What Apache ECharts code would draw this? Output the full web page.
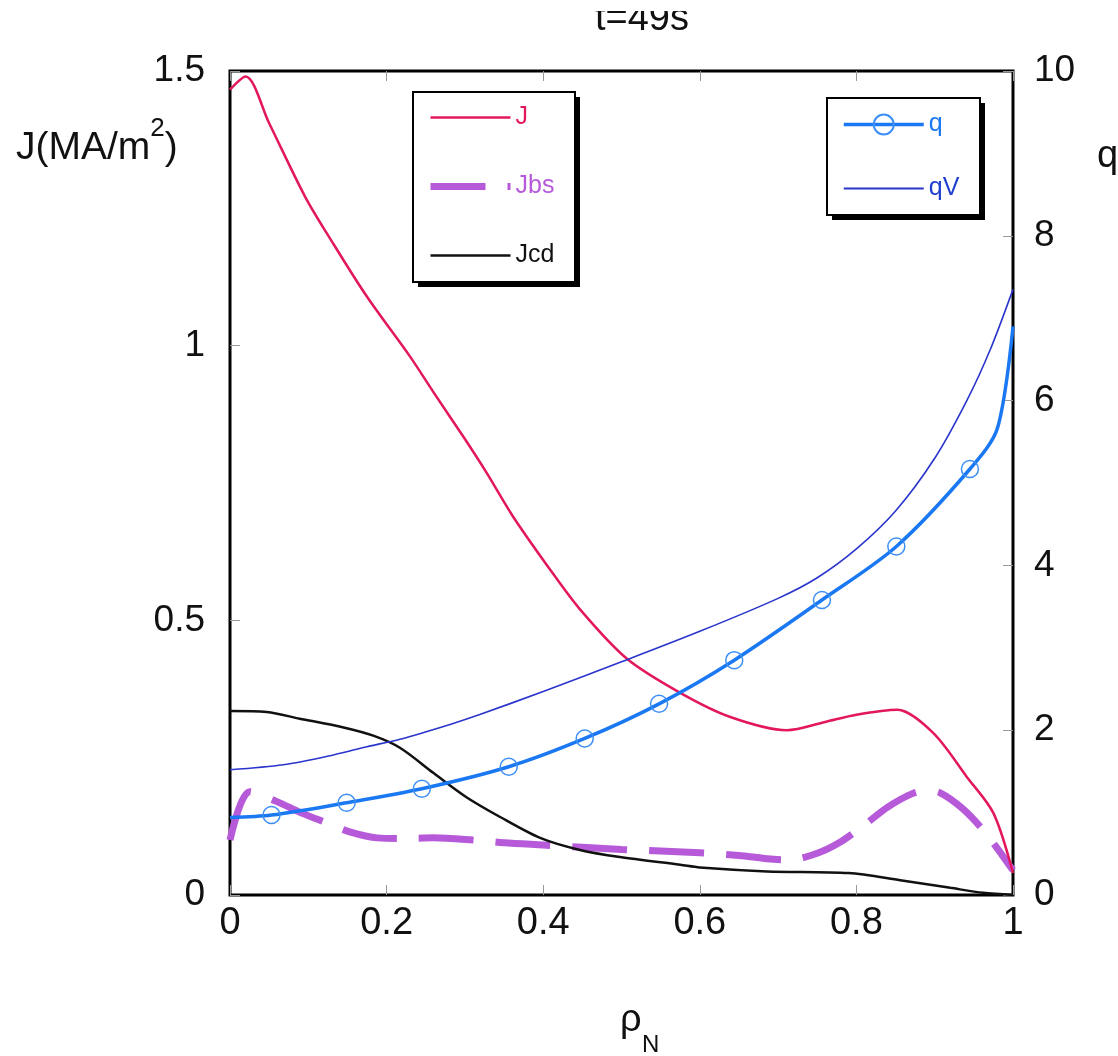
<!DOCTYPE html>
<html>
<head>
<meta charset="utf-8">
<script src="https://cdn.jsdelivr.net/npm/echarts@6/dist/echarts.min.js"></script>
<style>
  html, body { margin: 0; padding: 0; background: #fff; }
  #chart { width: 1118px; height: 1056px; }
</style>
</head>
<body>
<div id="chart"></div>
<script>
// ---- data ----
const xTicks = [0, 0.2, 0.4, 0.6, 0.8, 1];
const jTicks = [0, 0.5, 1, 1.5];
const qTicks = [0, 2, 4, 6, 8, 10];

const jRho = [0, 0.02, 0.05, 0.096, 0.13, 0.175, 0.23, 0.26, 0.3, 0.328, 0.361, 0.405, 0.447, 0.507, 0.575, 0.639, 0.711, 0.76, 0.8, 0.852, 0.898, 0.941, 0.975, 1.0];
const jVal = [1.466, 1.49, 1.405, 1.271, 1.19, 1.089, 0.98, 0.915, 0.83, 0.768, 0.69, 0.60, 0.52, 0.43, 0.368, 0.324, 0.300, 0.315, 0.328, 0.337, 0.295, 0.215, 0.149, 0.04];

const jbsRho = [0, 0.025, 0.06, 0.09, 0.124, 0.153, 0.188, 0.22, 0.26, 0.31, 0.35, 0.4, 0.5, 0.6, 0.65, 0.686, 0.715, 0.75, 0.779, 0.808, 0.84, 0.872, 0.89, 0.907, 0.935, 0.962, 0.985, 1.0];
const jbsVal = [0.10, 0.188, 0.17, 0.15, 0.131, 0.115, 0.104, 0.103, 0.104, 0.100, 0.095, 0.091, 0.083, 0.077, 0.072, 0.066, 0.064, 0.076, 0.096, 0.125, 0.160, 0.185, 0.19, 0.186, 0.158, 0.118, 0.075, 0.045];

const jcdRho = [0, 0.047, 0.089, 0.145, 0.183, 0.217, 0.26, 0.302, 0.345, 0.396, 0.447, 0.498, 0.575, 0.6, 0.686, 0.79, 0.856, 0.92, 0.962, 1.0];
const jcdVal = [0.335, 0.333, 0.321, 0.305, 0.29, 0.268, 0.222, 0.178, 0.142, 0.104, 0.082, 0.069, 0.055, 0.050, 0.043, 0.040, 0.027, 0.013, 0.004, 0.0];

const qRho  = [0, 0.053, 0.149, 0.245, 0.356, 0.453, 0.548, 0.644, 0.756, 0.851, 0.945, 0.98, 1.0];
const qVal  = [0.94, 0.97, 1.12, 1.29, 1.557, 1.90, 2.32, 2.85, 3.58, 4.23, 5.17, 5.66, 6.9];
const qMark = [0, 1, 1, 1, 1, 1, 1, 1, 1, 1, 1, 0, 0];

const qvRho = [0, 0.068, 0.132, 0.175, 0.217, 0.281, 0.319, 0.4, 0.5, 0.6, 0.7, 0.75, 0.8, 0.85, 0.9, 0.941, 0.971, 1.0];
const qvVal = [1.52, 1.58, 1.70, 1.80, 1.89, 2.07, 2.19, 2.47, 2.83, 3.20, 3.60, 3.85, 4.20, 4.66, 5.30, 6.00, 6.62, 7.35];

// ---- styling ----
const FONT = '"Liberation Sans", Arial, Helvetica, sans-serif';
const cJ = '#e3175b', cJbs = '#b65ad9', cJcd = '#111111', cQ = '#1a78f2', cQm = '#3d8ff5', cQV = '#2a35cc';

const pairs = (xs, ys) => xs.map((x, i) => [x, ys[i]]);

const tickStyle = { show: true, inside: true, length: 10, lineStyle: { color: '#999', width: 1 } };
const noLine = { show: false, onZero: false };
const hiddenSym = { opacity: 0 };

const chart = echarts.init(document.getElementById('chart'), null, { renderer: 'canvas' });

chart.setOption({
  animation: false,
  backgroundColor: '#fff',
  grid: {
    left: 230, right: 105, top: 71, bottom: 161,
    show: true, borderColor: '#000', borderWidth: 3, backgroundColor: 'transparent'
  },
  xAxis: [
    {
      type: 'value', min: xTicks[0], max: xTicks[xTicks.length - 1], interval: 0.2,
      position: 'bottom',
      axisLine: noLine, splitLine: { show: false },
      axisTick: tickStyle,
      axisLabel: { fontSize: 38, color: '#111', fontFamily: FONT, margin: 10 }
    },
    {
      type: 'value', min: xTicks[0], max: xTicks[xTicks.length - 1], interval: 0.2,
      position: 'top',
      axisLine: noLine, splitLine: { show: false },
      axisTick: tickStyle, axisLabel: { show: false }
    }
  ],
  yAxis: [
    {
      type: 'value', min: jTicks[0], max: jTicks[jTicks.length - 1], interval: 0.5,
      position: 'left',
      axisLine: noLine, splitLine: { show: false },
      axisTick: tickStyle,
      axisLabel: { fontSize: 37, color: '#111', fontFamily: FONT, margin: 25, padding: [0, 0, 10, 0] }
    },
    {
      type: 'value', min: qTicks[0], max: qTicks[qTicks.length - 1], interval: 2,
      position: 'right',
      axisLine: noLine, splitLine: { show: false },
      axisTick: tickStyle,
      axisLabel: { fontSize: 37, color: '#111', fontFamily: FONT, margin: 21, padding: [0, 0, 15, 0] }
    }
  ],
  legend: [
    {
      data: [
        { name: 'J', textStyle: { color: cJ }, itemStyle: hiddenSym, lineStyle: { width: 2.5 } },
        { name: 'Jbs', textStyle: { color: cJbs }, itemStyle: hiddenSym, lineStyle: { width: 7 } },
        { name: 'Jcd', textStyle: { color: '#111' }, itemStyle: hiddenSym, lineStyle: { width: 2.5 } }
      ],
      orient: 'vertical', left: 413, top: 92, z: 10,
      itemWidth: 80, itemHeight: 25, itemGap: 44,
      padding: [13, 22, 15, 14],
      textStyle: { fontSize: 25, fontFamily: FONT, lineHeight: 25 },
      selectedMode: false
    },
    {
      data: [
        { name: 'q', textStyle: { color: '#1a78f2' }, lineStyle: { width: 3.5 } },
        { name: 'qV', textStyle: { color: '#2040d0' }, itemStyle: hiddenSym, lineStyle: { width: 1.8 } }
      ],
      orient: 'vertical', left: 827, top: 98, z: 10,
      itemWidth: 80, itemHeight: 25, itemGap: 39,
      padding: [14, 21, 15, 15],
      textStyle: { fontSize: 25, fontFamily: FONT, lineHeight: 25 },
      selectedMode: false
    }
  ],
  series: [
    {
      name: 'J', type: 'line', xAxisIndex: 0, yAxisIndex: 0,
      data: pairs(jRho, jVal), smooth: 0.3, symbol: 'none',
      lineStyle: { color: cJ, width: 2.5 }, itemStyle: { color: cJ }, z: 3
    },
    {
      name: 'Jbs', type: 'line', xAxisIndex: 0, yAxisIndex: 0,
      data: pairs(jbsRho, jbsVal), smooth: 0.3, symbol: 'none',
      lineStyle: { color: cJbs, width: 7, type: [55, 22] }, itemStyle: { color: cJbs }, z: 2
    },
    {
      name: 'Jcd', type: 'line', xAxisIndex: 0, yAxisIndex: 0,
      data: pairs(jcdRho, jcdVal), smooth: 0.3, symbol: 'none',
      lineStyle: { color: cJcd, width: 2.5 }, itemStyle: { color: cJcd }, z: 3
    },
    {
      name: 'q', type: 'line', xAxisIndex: 0, yAxisIndex: 1,
      data: qRho.map((x, i) => ({ value: [x, qVal[i]], symbol: qMark[i] ? 'circle' : 'none' })),
      smooth: 0.3, symbol: 'circle', symbolSize: 17, showSymbol: true, showAllSymbol: true,
      lineStyle: { color: cQ, width: 3.5 },
      itemStyle: { color: 'rgba(255,255,255,0)', borderColor: cQm, borderWidth: 1.5 }, z: 4
    },
    {
      name: 'qV', type: 'line', xAxisIndex: 0, yAxisIndex: 1,
      data: pairs(qvRho, qvVal), smooth: 0.3, symbol: 'none',
      lineStyle: { color: cQV, width: 1.6 }, itemStyle: { color: cQV }, z: 4
    }
  ],
  graphic: [
    // legend boxes with offset shadows
    { type: 'rect', z: 8, shape: { x: 418, y: 97, width: 162, height: 190 }, style: { fill: '#000' } },
    { type: 'rect', z: 9, shape: { x: 413, y: 92, width: 162, height: 190 }, style: { fill: '#fff', stroke: '#000', lineWidth: 2 } },
    { type: 'rect', z: 8, shape: { x: 832, y: 103, width: 153, height: 117 }, style: { fill: '#000' } },
    { type: 'rect', z: 9, shape: { x: 827, y: 98, width: 153, height: 117 }, style: { fill: '#fff', stroke: '#000', lineWidth: 2 } },
    { type: 'text', x: 642, y: 20, z: 10,
      style: { text: 't=49s', font: '38px ' + FONT, fill: '#111', textAlign: 'center', textVerticalAlign: 'middle' } },
    { type: 'rect', shape: { x: 540, y: 0, width: 220, height: 11 }, style: { fill: '#fff' }, z: 11 },
    { type: 'text', x: 16, y: 142, z: 10,
      style: { text: '{a|J(MA/m}{s|2}{a|)}', textVerticalAlign: 'middle',
        rich: {
          a: { fontSize: 39, fontFamily: FONT, fill: '#111', lineHeight: 52, verticalAlign: 'bottom' },
          s: { fontSize: 26, fontFamily: FONT, fill: '#111', lineHeight: 52, verticalAlign: 'top' }
        } } },
    { type: 'text', x: 1097, y: 157, z: 10,
      style: { text: 'q', font: '38px ' + FONT, fill: '#111', textVerticalAlign: 'middle' } },
    { type: 'text', x: 620, y: 1021, z: 10,
      style: { text: 'ρ', font: '38px ' + FONT, fill: '#111', textVerticalAlign: 'middle' } },
    { type: 'text', x: 642, y: 1045, z: 10,
      style: { text: 'N', font: '24px ' + FONT, fill: '#111', textVerticalAlign: 'middle' } }
  ]
});
</script>
</body>
</html>
